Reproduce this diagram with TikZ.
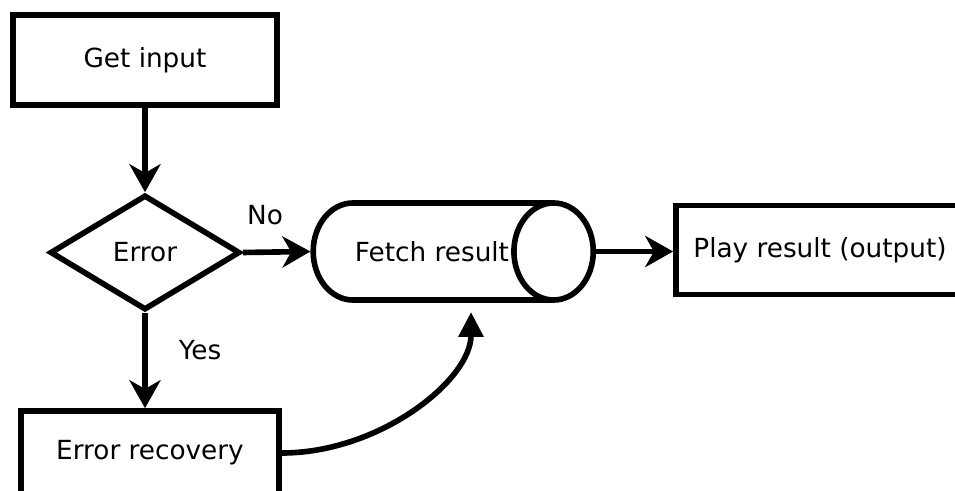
\documentclass[tikz,border=0pt]{standalone}
\usepackage{fontspec}
\setmainfont{DejaVu Sans}
\usetikzlibrary{arrows.meta}
\usetikzlibrary{shapes.geometric}
\usetikzlibrary{positioning}
\tikzset{box/.style = {draw, line width = 4pt, inner sep = 0, font = \fontsize{18.7}{22}\selectfont}}
\tikzset{flow/.style = {line width = 4pt, -{Stealth[length = 0.7cm, width = 0.78cm, inset = 0.22cm]}}}
\tikzset{lbl/.style = {font = \fontsize{18.7}{22}\selectfont}}

\begin{document}
\begin{tikzpicture}[x = 0.025cm, y = -0.025cm]
      \clip (0, 0) rectangle (955, 491);
      \useasboundingbox (0, 0) rectangle (955, 491);

      \node [box, rectangle, minimum width = 6.6cm, minimum height = 2.25cm] (get) at (145, 60) {Get input};
      \node [box, diamond, minimum width = 4.75cm, minimum height = 2.875cm] (err) at (145, 252.5) {Error};
      \node [box, rectangle, minimum width = 6.45cm, minimum height = 2.1cm] (recov) at (150, 453) {Error recovery};
      \node [box, cylinder, shape aspect = 3.9, minimum width = 2.425cm, minimum height = 7.0cm] (fetch) at (432, 251.5) {Fetch result};
      \node [box, rectangle, minimum width = 7.2cm, minimum height = 2.225cm] (play) at (820, 250) {Play result (output)};

      \node [lbl] (no) at (265, 215) {No};
      \node [lbl] (yes) at (200, 350) {Yes};
      \coordinate (back) at (471, 312);

      \draw [flow] (get) -- (err);
      \draw [flow] (err.east) -- (fetch.west);
      \draw [flow] (err.south) -- (err.south |- recov.north);
      \draw [flow] (fetch.east) -- (fetch.east -| play.west);
      \draw [line width = 4pt, -{Triangle[length = 0.62cm, width = 0.6cm]}] (recov.east) .. controls +(98, 0) and +(0, 68) .. (back);
    \end{tikzpicture}
\end{document}
